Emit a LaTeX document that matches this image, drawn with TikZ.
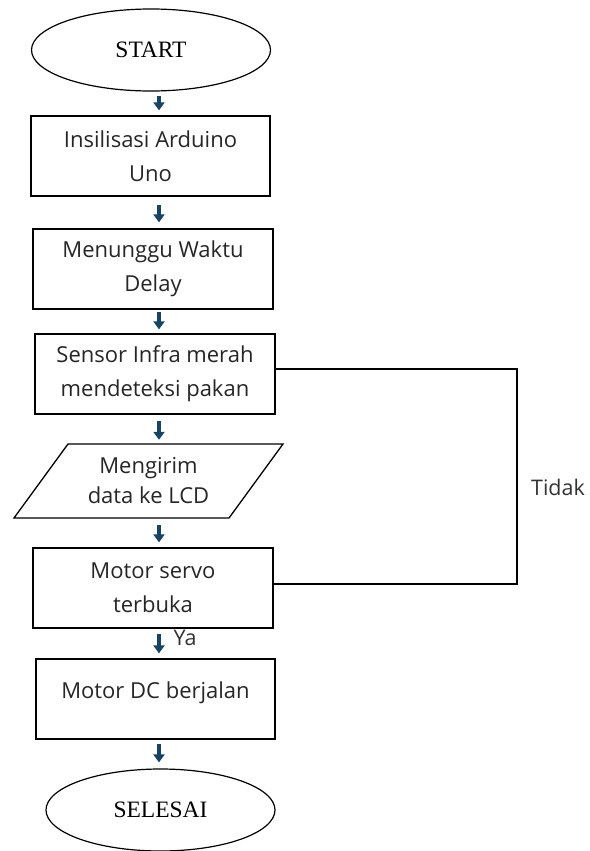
\documentclass[tikz,border=0pt]{standalone}
\usepackage{fontspec}
\setmainfont{Open Sans}
\newfontfamily\termfont{Liberation Serif}
\usetikzlibrary{arrows.meta,shapes.geometric}
\definecolor{arrowblue}{RGB}{24,68,98}
\tikzset{
  termnode/.style = {ellipse, draw, line width=1.2pt, inner sep=0pt,
                     font=\termfont\fontsize{23.5}{26}\selectfont},
  procbox/.style  = {rectangle, draw, line width=1.3pt, inner sep=0pt,
                     minimum width=240pt, minimum height=80pt, align=center,
                     font=\fontsize{22}{34}\selectfont, text=black!85},
  iotext/.style   = {inner sep=0pt, minimum height=74pt, align=center,
                     font=\fontsize{22}{30}\selectfont, text=black!85},
  lbltext/.style  = {inner sep=0pt, font=\fontsize{21.5}{24}\selectfont, text=black!80},
  flowarr/.style  = {-{Triangle[length=8pt,width=11pt]}, line width=4pt, arrowblue},
  loopln/.style   = {line width=1.3pt}
}

\begin{document}
\begin{tikzpicture}[x=1pt,y=-1pt]
  \useasboundingbox (0,0) rectangle (589,851);
  % terminals and process steps
  \node[termnode, minimum width=239pt, minimum height=82pt] (start) at (151,50) {START};
  \node[procbox, minimum width=239pt] (init)   at (150.5,156) {Insilisasi Arduino\\Uno};
  \node[procbox] (wait)   at (153,269) {Menunggu Waktu\\Delay};
  \node[procbox] (sensor) at (155,374) {Sensor Infra merah\\mendeteksi pakan};
  \node[iotext]  (lcd)    at (148.5,481) {Mengirim\\data ke LCD};
  \draw[line width=1.3pt] (68,444) -- (283,444) -- (229,518) -- (14,518) -- cycle;
  \node[procbox] (servo)  at (153,588) {Motor servo\\terbuka};
  \node[procbox, minimum width=239pt] (dc) at (155.5,699) {\raisebox{18pt}{Motor DC berjalan}};
  \node[termnode, minimum width=229pt, minimum height=82pt] (stop) at (160.5,810) {SELESAI};
  % arrows down the column
  \coordinate (ax) at (159,0);
  \foreach \a/\b/\s/\e in {start/init/4/5, init/wait/8/6, wait/sensor/2/4,
                           sensor/lcd/6/4, lcd/servo/7/5, servo/dc/5/5, dc/stop/4/6}
    { \draw[flowarr, shorten <=\s pt, shorten >=\e pt] (\a.south -| ax) -- (\b.north -| ax); }
  \node[lbltext] (ya) at (185,638) {Ya};
  % loop back
  \coordinate (loopx) at (517,0);
  \coordinate (sout) at ([yshift=5pt]sensor.east);
  \coordinate (sin)  at ([yshift=4pt]servo.east);
  \draw[loopln] (sout) -- (sout -| loopx) |- (sin);
  \node[lbltext] (tidak) at (558,487) {Tidak};
\end{tikzpicture}
\end{document}
